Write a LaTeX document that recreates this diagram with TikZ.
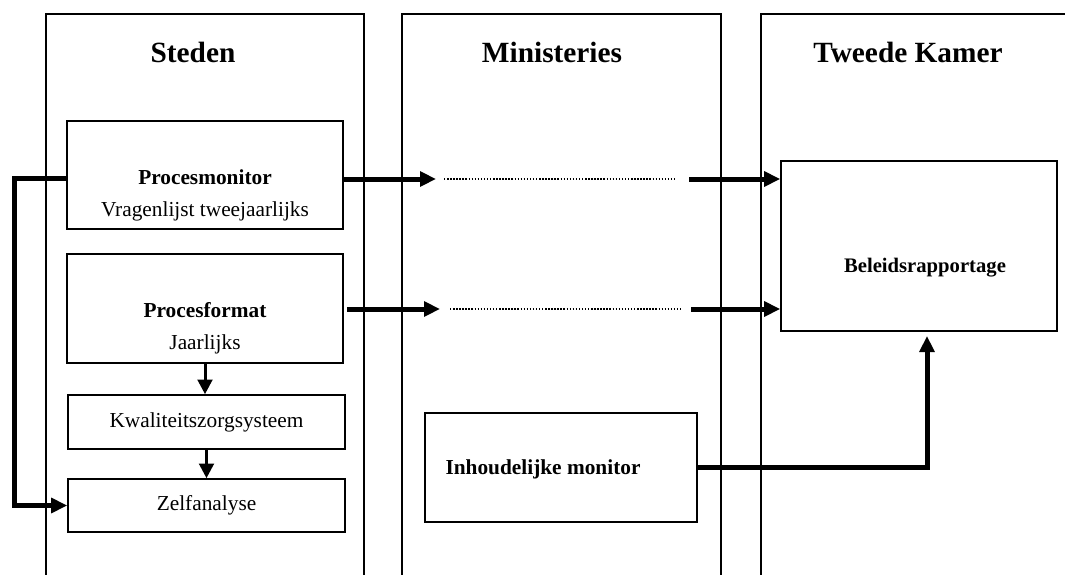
\documentclass[tikz,border=0pt]{standalone}
\usepackage{fontspec}
\setmainfont{Liberation Serif}
\usetikzlibrary{arrows.meta}

\begin{document}
\begin{tikzpicture}[x=0.75pt,y=-0.75pt,
    vak/.style={draw,line width=1.2pt,inner sep=0pt},
    tekst/.style={font=\fontsize{16}{24}\selectfont,align=center},
    dik/.style={line width=3.75pt,-{Triangle[length=12pt,width=11pt]}},
    dun/.style={line width=2.25pt,-{Triangle[length=11pt,width=11pt]}},
    stip/.style={line width=1.1pt,dash pattern=on 1.1pt off 1.2pt}]
  \useasboundingbox (0,0) rectangle (1065,575);
  \foreach \xl/\xr/\xm/\naam/\titel in {46/364/193/steden/Steden, 402/721/552/min/Ministeries, 761/1075/908/tk/Tweede Kamer} {
    \draw[line width=1pt] (\xl,575) -- (\xl,14) -- (\xr,14) -- (\xr,575);
    \node[font=\fontsize{22}{26}\selectfont\bfseries] (\naam) at (\xm,52) {\titel};
  }
  \node[vak,minimum width=207pt,minimum height=81pt] (pm) at (205,175) {};
  \node[tekst] (pmt) at (205,195) {\textbf{Procesmonitor}\\Vragenlijst tweejaarlijks};
  \node[vak,minimum width=207pt,minimum height=81.75pt] (pf) at (205,308.5) {};
  \node[tekst] (pft) at (205,328) {\textbf{Procesformat}\\Jaarlijks};
  \node[vak,tekst,minimum width=207.75pt,minimum height=40.5pt] (kw) at (206.5,422) {Kwaliteitszorgsysteem};
  \node[vak,tekst,minimum width=207.75pt,minimum height=39.75pt] (zel) at (206.5,505.5) {Zelfanalyse};
  \node[vak,minimum width=204pt,minimum height=81.75pt] (inh) at (561,467.5) {};
  \node[tekst,font=\fontsize{16}{24}\selectfont\bfseries] (inht) at (543,469) {Inhoudelijke monitor};
  \node[vak,minimum width=207pt,minimum height=127.5pt] (bel) at (919,246) {};
  \node[tekst,font=\fontsize{15.5}{24}\selectfont\bfseries] (belt) at (925,268) {Beleidsrapportage};

  \coordinate (p1) at (436,179);
  \coordinate (s1a) at (444,179);
  \coordinate (s1b) at (677,179);
  \coordinate (q1) at (689,179);
  \coordinate (r2) at (347,309);
  \coordinate (p2) at (440,309);
  \coordinate (s2a) at (450,309);
  \coordinate (s2b) at (683,309);
  \coordinate (q2) at (691,309);
  \coordinate (lus) at (14,178);
  \coordinate (belo) at (927,336);

  \draw[dik] (pm.east |- p1) -- (p1);
  \draw[stip] (s1a) -- (s1b);
  \draw[dik] (q1) -- (bel.west |- q1);
  \draw[dik] (r2) -- (p2);
  \draw[stip] (s2a) -- (s2b);
  \draw[dik] (q2) -- (bel.west |- q2);
  \draw[dik] (pm.west |- lus) -- (lus) |- (zel.west);
  \draw[dun] (pf.south) -- (pf.south |- kw.north);
  \draw[dun] (kw.south) -- (kw.south |- zel.north);
  \draw[dik] (inh.east) -| (belo);
\end{tikzpicture}
\end{document}
